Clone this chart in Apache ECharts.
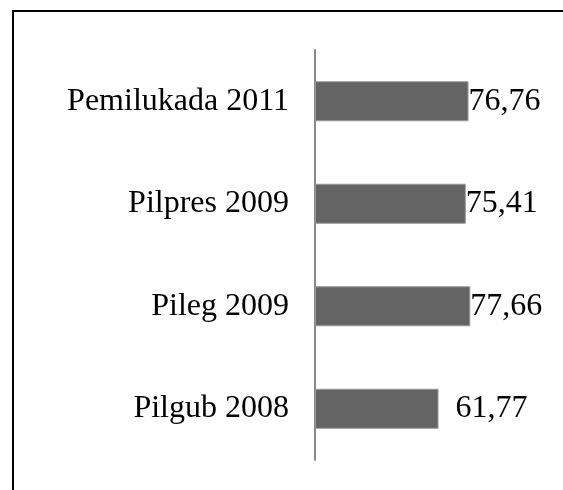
<!DOCTYPE html>
<html>
<head>
<meta charset="utf-8">
<script src="https://cdn.jsdelivr.net/npm/echarts@6/dist/echarts.min.js"></script>
<style>
    html, body { margin: 0; padding: 0; background: #fff; }
    #chart { width: 563px; height: 490px; }
</style>
</head>
<body>
<div id="chart"></div>
<script>
// data
const categories = ['Pilgub 2008', 'Pileg 2009', 'Pilpres 2009', 'Pemilukada 2011'];
const values = [61.77, 77.66, 75.41, 76.76];

const chart = echarts.init(document.getElementById('chart'));

// label offsets (Pilgub label sits a bit away from its bar)
const labelGap = [17, 0, 0, 0];

const option = {
    animation: false,
    backgroundColor: '#fff',
    graphic: [
        {
            // outer frame, only left and top edges show
            type: 'polyline',
            shape: { points: [[13, 520], [13, 11], [600, 11]] },
            style: { fill: 'none', stroke: '#000', lineWidth: 2 },
            silent: true
        }
    ],
    grid: {
        left: 315,
        top: 50,
        width: 200,
        height: 410
    },
    xAxis: {
        type: 'value',
        min: 0,
        max: 100,
        show: false
    },
    yAxis: {
        type: 'category',
        data: categories,
        axisLine: { show: true, lineStyle: { color: '#888', width: 2 } },
        axisTick: { show: false },
        axisLabel: {
            margin: 26,
            color: '#000',
            fontFamily: 'Liberation Serif',
            fontSize: 32,
            padding: [4, 0, 0, 0]
        }
    },
    series: [
        {
            type: 'bar',
            barWidth: 40,
            data: values.map((v, i) => ({
                value: v,
                label: { distance: labelGap[i] }
            })),
            itemStyle: {
                color: '#646464',
                borderColor: '#999',
                borderWidth: 1
            },
            label: {
                show: true,
                position: 'right',
                distance: 0,
                color: '#000',
                fontFamily: 'Liberation Serif',
                fontSize: 32,
                padding: [4, 0, 0, 0],
                formatter: p => p.value.toFixed(2).replace('.', ',')
            }
        }
    ]
};
chart.setOption(option);
</script>
</body>
</html>
